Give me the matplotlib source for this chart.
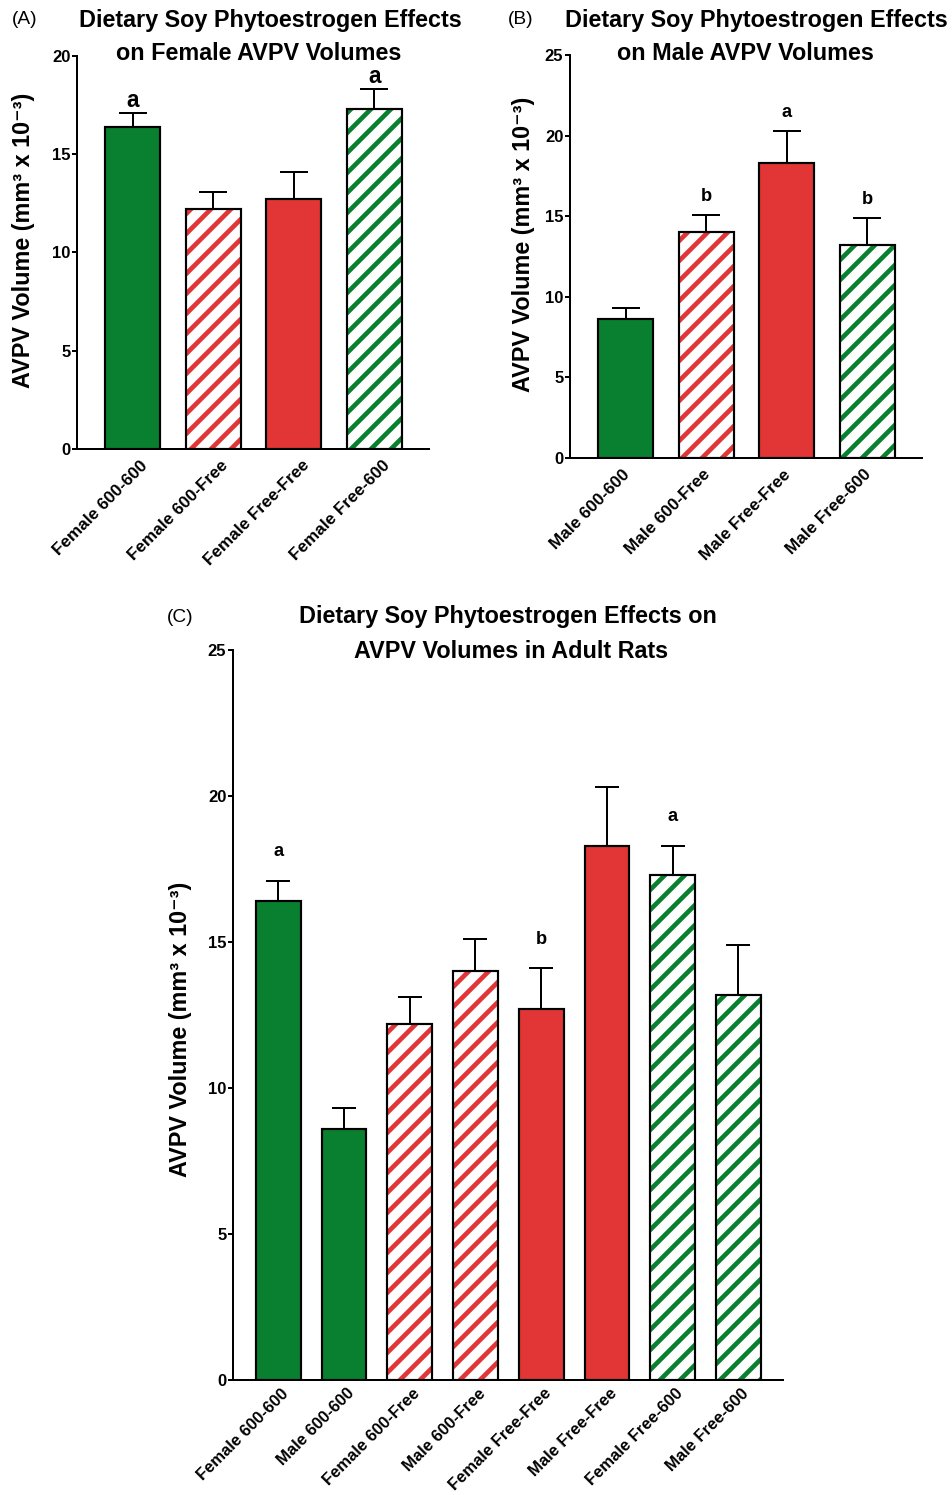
import numpy as np
import matplotlib
matplotlib.use("Agg")
import matplotlib.pyplot as plt
import matplotlib.transforms as mtrans

# donnees
groupes = ["600-600", "600-Free", "Free-Free", "Free-600"]
femelles_moy = [16.4, 12.2, 12.7, 17.3]
femelles_sem = [0.7, 0.9, 1.4, 1.0]
males_moy = [8.6, 14.0, 18.3, 13.2]
males_sem = [0.7, 1.1, 2.0, 1.7]
lettres_A = ["a", "", "", "a"]
lettres_B = ["", "b", "a", "b"]
lettres_C = ["a", "", "", "", "b", "", "a", ""]

VERT = "#08802f"
ROUGE = "#e23535"
couleurs = [VERT, ROUGE, ROUGE, VERT]
hachures = [False, True, False, True]

W, H, DPI = 952, 1495, 120
plt.rcParams["font.family"] = ["Liberation Sans", "DejaVu Sans"]
plt.rcParams["hatch.linewidth"] = 2.8

fig = plt.figure(figsize=(W / DPI, H / DPI), dpi=DPI)


def boite(x0, y0, x1, y1):
    # pixels -> fractions de figure
    return [x0 / W, 1 - y1 / H, (x1 - x0) / W, (y1 - y0) / H]


def traceBarres(ax, noms, moy, sem, coul, hach, lettres, ymax, pad_lettre,
                fs_lettre, cap, dx, dy=-14, fs_noms=10.3):
    x = np.arange(len(moy))
    larg = 0.68
    for i in range(len(moy)):
        if hach[i]:
            ax.bar(x[i], moy[i], larg, color="white", edgecolor=coul[i],
                   hatch="//", linewidth=0, zorder=2)
            ax.bar(x[i], moy[i], larg, color="none", edgecolor="black",
                   linewidth=1.3, zorder=3)
        else:
            ax.bar(x[i], moy[i], larg, color=coul[i], edgecolor="black",
                   linewidth=1.3, zorder=3)
    ax.errorbar(x, moy, yerr=[np.zeros(len(sem)), sem], fmt="none",
                ecolor="black", elinewidth=1.2, capsize=cap,
                capthick=1.2, zorder=4)
    for i, l in enumerate(lettres):
        if l:
            ax.text(x[i], moy[i] + sem[i] + pad_lettre, l, ha="center",
                    va="bottom", fontsize=fs_lettre, fontweight="bold")
    ax.set_xlim(-0.69, len(moy) - 1 + 0.68)
    ax.set_ylim(0, ymax)
    ax.set_yticks(np.arange(0, ymax + 1, 5))
    ax.set_xticks(x)
    ax.set_xticklabels([])
    # etiquettes inclinees placees a la main (decalage en pixels)
    decal = mtrans.ScaledTranslation(dx / DPI, dy / DPI, fig.dpi_scale_trans)
    for i, nom in enumerate(noms):
        ax.text(x[i], 0, nom, rotation=45, ha="right", va="center",
                rotation_mode="anchor", fontsize=fs_noms, fontweight="bold",
                transform=ax.get_xaxis_transform() + decal, clip_on=False)
    for lab in ax.get_yticklabels():
        lab.set_fontweight("bold")
        lab.set_fontsize(10)
    ax.spines["top"].set_visible(False)
    ax.spines["right"].set_visible(False)
    ax.spines["left"].set_linewidth(1.2)
    ax.spines["bottom"].set_linewidth(1.2)
    ax.tick_params(axis="x", length=0)
    ax.tick_params(axis="y", length=3, width=1.2, pad=1)
    ax.set_ylabel("AVPV Volume (mm³ x 10⁻³)", fontsize=14, fontweight="bold")


# (A) femelles
axA = fig.add_axes(boite(77, 56, 429, 449))
traceBarres(axA, ["Female " + g for g in groupes], femelles_moy, femelles_sem,
            couleurs, hachures, lettres_A, 20, 0.05, 13.5, 8.4, 13)
axA.yaxis.set_label_coords(-0.12, 0.53)

# (B) males
axB = fig.add_axes(boite(570, 55, 922, 458))
traceBarres(axB, ["Male " + g for g in groupes], males_moy, males_sem,
            couleurs, hachures, lettres_B, 25, 0.6, 11, 8.4, 2)
axB.yaxis.set_label_coords(-0.10, 0.53)

# (C) tous ensemble, alternance femelle / male
noms_C, moy_C, sem_C, coul_C, hach_C = [], [], [], [], []
for i, g in enumerate(groupes):
    noms_C += ["Female " + g, "Male " + g]
    moy_C += [femelles_moy[i], males_moy[i]]
    sem_C += [femelles_sem[i], males_sem[i]]
    coul_C += [couleurs[i], couleurs[i]]
    hach_C += [hachures[i], hachures[i]]
axC = fig.add_axes(boite(233, 650, 783, 1380))
traceBarres(axC, noms_C, moy_C, sem_C, coul_C, hach_C, lettres_C, 25, 0.7,
            11, 7.2, 8, dy=-11, fs_noms=9.9)
axC.yaxis.set_label_coords(-0.075, 0.48)

# titres
def texte(px, py, s, **kw):
    fig.text(px / W, 1 - py / H, s, va="center", **kw)

tt = dict(ha="center", fontsize=14, fontweight="bold")
texte(270, 20, "Dietary Soy Phytoestrogen Effects", **tt)
texte(259, 54, "on Female AVPV Volumes", **tt)
texte(756, 20, "Dietary Soy Phytoestrogen Effects", **tt)
texte(745, 54, "on Male AVPV Volumes", **tt)
texte(508, 617, "Dietary Soy Phytoestrogen Effects on", **tt)
texte(511, 652, "AVPV Volumes in Adult Rats", **tt)
texte(12, 20, "(A)", ha="left", fontsize=11.5)
texte(508, 20, "(B)", ha="left", fontsize=11.5)
texte(167, 617, "(C)", ha="left", fontsize=11.5)

fig.savefig("out.png", dpi=DPI)
